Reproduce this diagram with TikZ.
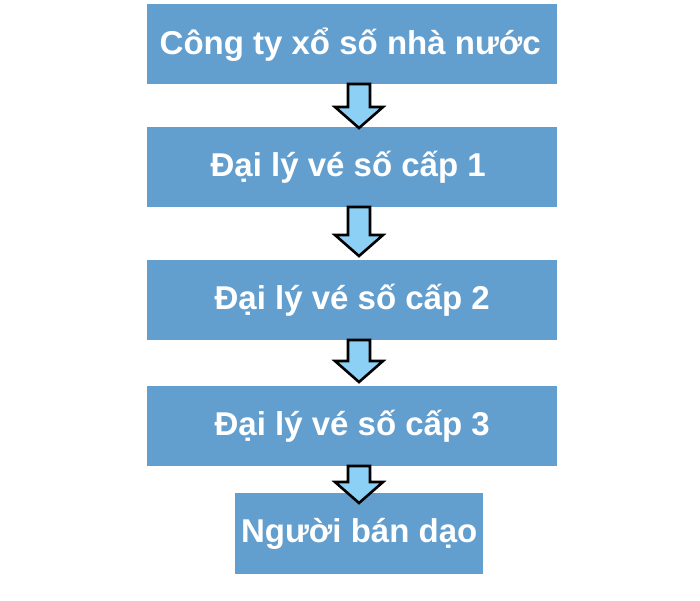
\documentclass[tikz,border=0pt]{standalone}
\usepackage{fontspec}
\setmainfont{Liberation Sans}
\definecolor{boxblue}{RGB}{98,158,206}
\definecolor{arrblue}{RGB}{140,208,245}
\newcommand\downarr[3]{% center x, top y, tip y
  \draw[arrowstyle] (#1-11,#2) -- (#1+11,#2) -- (#1+11,#3-21) -- (#1+24,#3-21)
    -- (#1,#3) -- (#1-24,#3-21) -- (#1-11,#3-21) -- cycle;}
\begin{document}
\begin{tikzpicture}[x=1pt,y=-1pt,
  box/.style={fill=boxblue, inner sep=0pt, text=white,
    font=\fontsize{33}{38}\selectfont\bfseries, anchor=north west},
  arrowstyle/.style={fill=arrblue, draw=black, line width=2.6pt, line join=miter}]
\useasboundingbox (0,0) rectangle (700,600);
\node[box, minimum width=410pt, minimum height=80pt] (b1) at (147,4) {\hspace*{-4pt}Công ty xổ số nhà nước};
\node[box, minimum width=410pt, minimum height=80pt] (b2) at (147,127) {\hspace*{-8pt}Đại lý vé số cấp 1};
\node[box, minimum width=410pt, minimum height=80pt] (b3) at (147,260) {Đại lý vé số cấp 2};
\node[box, minimum width=410pt, minimum height=80pt] (b4) at (147,386) {Đại lý vé số cấp 3};
\node[box, minimum width=248pt, minimum height=81pt] (b5) at (235,493) {Người bán dạo};
\downarr{359}{84}{128}
\downarr{359}{207}{256}
\downarr{359}{340}{382}
\downarr{359}{466}{503}
\end{tikzpicture}
\end{document}
